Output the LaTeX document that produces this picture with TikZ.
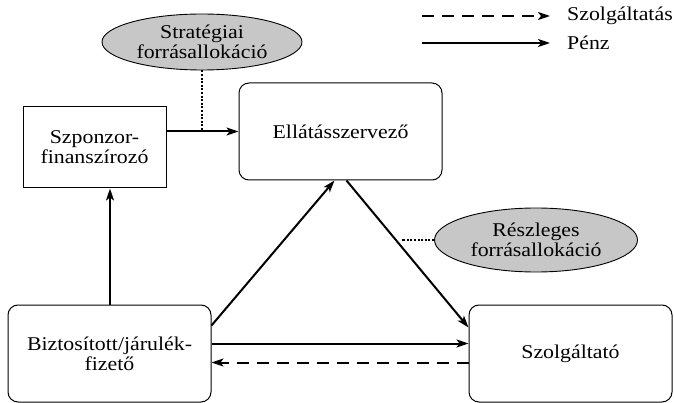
\documentclass[tikz,border=0pt]{standalone}
\usepackage{fontspec}
\setmainfont{Liberation Serif}[FakeStretch=1.12]
\usetikzlibrary{shapes.geometric,arrows.meta}

\begin{document}
\begin{tikzpicture}[
    x=1pt, y=-1pt,
    >={Stealth[length=12pt,width=8pt,inset=3pt]},
    every node/.style={font=\fontsize{19.5}{20}\selectfont, align=center},
    party/.style={draw, line width=1pt, rounded corners=10pt, minimum width=203pt, minimum height=97pt},
    sponsor/.style={draw, line width=1pt, minimum width=143pt, minimum height=81pt},
    alloc/.style={ellipse, draw, line width=0.9pt, fill=black!22, inner sep=0pt},
    money/.style={->, line width=2pt},
    service/.style={->, line width=2pt, dash pattern=on 12pt off 8pt},
    allocline/.style={line width=2.3pt, dash pattern=on 2pt off 1.6pt}
]

\useasboundingbox (0,0) rectangle (674,403);

% szereplok
\node[sponsor] (szp) at (94.5,147.5) {Szponzor-\\finanszírozó};
\node[party] (ell) at (340.5,131.5) {Ellátásszervező};
\node[party] (biz) at (109.5,353.5) {Biztosított/járulék-\\fizető};
\node[party] (szo) at (570.5,353.5) {Szolgáltató};

\node[alloc, minimum width=200pt, minimum height=56pt] (strat) at (202,42) {Stratégiai\\forrásallokáció};
\node[alloc, minimum width=203pt, minimum height=64pt] (resz) at (536,240) {Részleges\\forrásallokáció};

% jelmagyarazat
\coordinate (lsa) at (422,16);
\coordinate (lsb) at (550,16);
\coordinate (lpa) at (422,43);
\coordinate (lpb) at (550,43);
\node[anchor=west, inner sep=0pt] (lsvc) at (567,16) {Szolgáltatás};
\node[anchor=west, inner sep=0pt] (lpnz) at (567,43) {Pénz};
\draw[service] (lsa) -- (lsb);
\draw[money] (lpa) -- (lpb);

% penz- es szolgaltatasaramlas
\draw[money] ([xshift=0.5pt]biz.north) -- ([xshift=0.5pt]biz.north |- szp.south);
\draw[money] (szp.east |- ell.west) -- (ell.west);
\draw[money] ([yshift=28pt]biz.east) -- ([xshift=-6pt]ell.south);
\draw[money] ([xshift=6pt]ell.south) -- coordinate[pos=0.41] (rmid) ([yshift=26pt]szo.west);
\draw[money] ([yshift=10pt]biz.east) -- ([yshift=10pt]szo.west);
\draw[service] ([yshift=-9pt]szo.west) -- ([yshift=-9pt]biz.east);

% allokacio
\draw[allocline] (strat.south) -- (strat.south |- ell.west);
\draw[allocline] (resz.west) -- ([xshift=5pt]resz.west -| rmid);
\end{tikzpicture}
\end{document}
